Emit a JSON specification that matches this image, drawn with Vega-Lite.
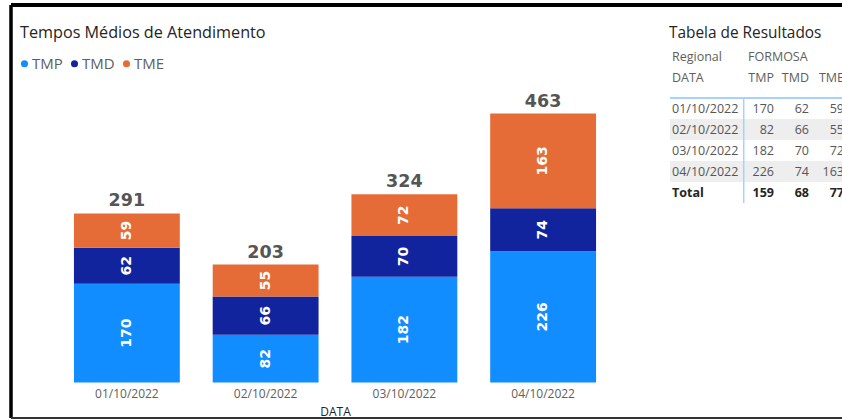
{
  "$schema": "https://vega.github.io/schema/vega-lite/v6.json",
  "width": 831,
  "height": 413,
  "autosize": {"type": "none"},
  "padding": {"left": 11, "top": 5, "right": 0, "bottom": 2},
  "background": "#ffffff",
  "config": {"view": {"stroke": null}, "font": "Open Sans"},
  "title": {"text": "Tempos Médios de Atendimento", "anchor": "start", "frame": "group", "offset": 0, "baseline": "alphabetic", "dx": 9, "dy": 51, "fontSize": 16.2, "fontWeight": "normal", "color": "#252423", "font": "Open Sans"},
  "datasets": {
    "tempos": [
      {"data": "01/10/2022", "metrica": "TMP", "ordem": 1, "valor": 170},
      {"data": "01/10/2022", "metrica": "TMD", "ordem": 2, "valor": 62},
      {"data": "01/10/2022", "metrica": "TME", "ordem": 3, "valor": 59},
      {"data": "02/10/2022", "metrica": "TMP", "ordem": 1, "valor": 82},
      {"data": "02/10/2022", "metrica": "TMD", "ordem": 2, "valor": 66},
      {"data": "02/10/2022", "metrica": "TME", "ordem": 3, "valor": 55},
      {"data": "03/10/2022", "metrica": "TMP", "ordem": 1, "valor": 182},
      {"data": "03/10/2022", "metrica": "TMD", "ordem": 2, "valor": 70},
      {"data": "03/10/2022", "metrica": "TME", "ordem": 3, "valor": 72},
      {"data": "04/10/2022", "metrica": "TMP", "ordem": 1, "valor": 226},
      {"data": "04/10/2022", "metrica": "TMD", "ordem": 2, "valor": 74},
      {"data": "04/10/2022", "metrica": "TME", "ordem": 3, "valor": 163}
    ],
    "totais": [
      {"metrica": "TMP", "valor": 159},
      {"metrica": "TMD", "valor": 68},
      {"metrica": "TME", "valor": 77}
    ],
    "linhas": [
      {"linha": "01/10/2022"},
      {"linha": "02/10/2022"},
      {"linha": "03/10/2022"},
      {"linha": "04/10/2022"},
      {"linha": "Total"}
    ],
    "cabecalho": [
      {"linha": "titulo", "coluna": "c1", "texto": "Tabela de Resultados"},
      {"linha": "Regional", "coluna": "c1", "texto": "Regional"},
      {"linha": "Regional", "coluna": "TMP", "texto": "FORMOSA"},
      {"linha": "DATA", "coluna": "c1", "texto": "DATA"},
      {"linha": "DATA", "coluna": "TMP", "texto": "TMP"},
      {"linha": "DATA", "coluna": "TMD", "texto": "TMD"},
      {"linha": "DATA", "coluna": "TME", "texto": "TME"}
    ]
  },
  "layer": [
    {
      "data": {"name": "tempos"},
      "layer": [
        {
          "mark": {"type": "bar"},
          "encoding": {
            "x": {"field": "data", "type": "ordinal",
              "scale": {"type": "band", "domain": ["01/10/2022", "02/10/2022", "03/10/2022", "04/10/2022"], "range": [46.5, 601.5], "paddingInner": 0.237, "paddingOuter": 0.1185},
              "axis": {"title": "DATA", "offset": -35.5, "domain": false, "ticks": false, "tickSize": 0, "labelPadding": 6, "labelAngle": 0, "labelColor": "#605E5C", "labelFont": "Open Sans", "labelFontSize": 12, "titleColor": "#252423", "titleFont": "Open Sans", "titleFontSize": 12, "titleFontWeight": "normal", "titlePadding": 7, "grid": false}},
            "y": {"field": "valor", "type": "quantitative", "stack": "zero",
              "scale": {"domain": [0, 463], "range": [377.5, 108.5], "nice": false, "zero": true}, "axis": null},
            "color": {"field": "metrica", "type": "nominal",
              "scale": {"domain": ["TMP", "TMD", "TME"], "range": ["#118DFF", "#12239E", "#E66C37"]},
              "legend": {"title": null, "orient": "none", "legendX": 6, "legendY": 51, "direction": "horizontal", "symbolType": "circle", "symbolSize": 50, "symbolStrokeWidth": 0, "labelFontSize": 15, "labelColor": "#605E5C", "labelFont": "Open Sans", "labelOffset": 0, "columnPadding": 4}},
            "order": {"field": "ordem", "type": "quantitative"}
          }
        },
        {
          "mark": {"type": "text", "angle": 270, "color": "#ffffff", "font": "DejaVu Sans", "fontWeight": "bold", "fontSize": 14, "baseline": "middle", "align": "center"},
          "encoding": {
            "x": {"field": "data", "type": "ordinal",
              "scale": {"type": "band", "domain": ["01/10/2022", "02/10/2022", "03/10/2022", "04/10/2022"], "range": [46.5, 601.5], "paddingInner": 0.237, "paddingOuter": 0.1185}},
            "y": {"field": "valor", "type": "quantitative", "stack": "zero", "bandPosition": 0.5,
              "scale": {"domain": [0, 463], "range": [377.5, 108.5], "nice": false, "zero": true}, "axis": null},
            "detail": {"field": "metrica", "type": "nominal"},
            "order": {"field": "ordem", "type": "quantitative"},
            "text": {"field": "valor", "type": "quantitative"}
          }
        },
        {
          "transform": [{"aggregate": [{"op": "sum", "field": "valor", "as": "total"}], "groupby": ["data"]}],
          "mark": {"type": "text", "baseline": "bottom", "dy": -3, "font": "DejaVu Sans", "fontWeight": "bold", "fontSize": 17.5, "color": "#555555", "align": "center"},
          "encoding": {
            "x": {"field": "data", "type": "ordinal",
              "scale": {"type": "band", "domain": ["01/10/2022", "02/10/2022", "03/10/2022", "04/10/2022"], "range": [46.5, 601.5], "paddingInner": 0.237, "paddingOuter": 0.1185}},
            "y": {"field": "total", "type": "quantitative",
              "scale": {"domain": [0, 463], "range": [377.5, 108.5], "nice": false, "zero": true}, "axis": null},
            "text": {"field": "total", "type": "quantitative"}
          }
        }
      ]
    },
    {
      "data": {"name": "cabecalho"},
      "layer": [
        {
          "transform": [{"filter": {"field": "linha", "equal": "titulo"}}],
          "mark": {"type": "text", "align": "left", "baseline": "middle", "dx": -1, "dy": -3.5, "fontSize": 15.4, "color": "#252423", "font": "Open Sans"},
          "encoding": {
            "x": {"field": "coluna", "type": "nominal", "bandPosition": 0, "scale": {"type": "band", "domain": ["c0", "c1", "c2", "TMP", "TMD", "TME"], "range": [624, 834], "paddingInner": 0, "paddingOuter": 0}, "axis": null},
            "y": {"field": "linha", "type": "nominal", "scale": {"type": "band", "domain": ["titulo", "Regional", "DATA"], "range": [21.25, 82.75], "paddingInner": 0, "paddingOuter": 0}, "axis": null},
            "text": {"field": "texto"}
          }
        },
        {
          "transform": [{"filter": {"field": "texto", "oneOf": ["Regional", "DATA"]}}],
          "mark": {"type": "text", "align": "left", "baseline": "middle", "dx": 2, "fontSize": 12.5, "color": "#605E5C", "font": "Open Sans"},
          "encoding": {
            "x": {"field": "coluna", "type": "nominal", "bandPosition": 0, "scale": {"type": "band", "domain": ["c0", "c1", "c2", "TMP", "TMD", "TME"], "range": [624, 834], "paddingInner": 0, "paddingOuter": 0}, "axis": null},
            "y": {"field": "linha", "type": "nominal", "scale": {"type": "band", "domain": ["titulo", "Regional", "DATA"], "range": [21.25, 82.75], "paddingInner": 0, "paddingOuter": 0}, "axis": null},
            "text": {"field": "texto"}
          }
        },
        {
          "transform": [{"filter": {"field": "texto", "equal": "FORMOSA"}}],
          "mark": {"type": "text", "align": "left", "baseline": "middle", "dx": 8, "fontSize": 12.5, "color": "#605E5C", "font": "Open Sans"},
          "encoding": {
            "x": {"field": "coluna", "type": "nominal", "bandPosition": 0, "scale": {"type": "band", "domain": ["c0", "c1", "c2", "TMP", "TMD", "TME"], "range": [624, 834], "paddingInner": 0, "paddingOuter": 0}, "axis": null},
            "y": {"field": "linha", "type": "nominal", "scale": {"type": "band", "domain": ["titulo", "Regional", "DATA"], "range": [21.25, 82.75], "paddingInner": 0, "paddingOuter": 0}, "axis": null},
            "text": {"field": "texto"}
          }
        },
        {
          "transform": [{"filter": {"field": "texto", "oneOf": ["TMP", "TMD", "TME"]}}],
          "mark": {"type": "text", "align": "right", "baseline": "middle", "dx": -1, "fontSize": 12.5, "color": "#605E5C", "font": "Open Sans"},
          "encoding": {
            "x": {"field": "coluna", "type": "nominal", "bandPosition": 1, "scale": {"type": "band", "domain": ["c0", "c1", "c2", "TMP", "TMD", "TME"], "range": [624, 834], "paddingInner": 0, "paddingOuter": 0}, "axis": null},
            "y": {"field": "linha", "type": "nominal", "scale": {"type": "band", "domain": ["titulo", "Regional", "DATA"], "range": [21.25, 82.75], "paddingInner": 0, "paddingOuter": 0}, "axis": null},
            "text": {"field": "texto"}
          }
        }
      ]
    },
    {
      "layer": [
        {
          "data": {"name": "linhas"},
          "transform": [{"filter": {"field": "linha", "oneOf": ["02/10/2022", "04/10/2022"]}}],
          "mark": {"type": "rect", "color": "#EEEEEE"},
          "encoding": {
            "x": {"datum": "c1", "type": "nominal", "bandPosition": 0, "scale": {"type": "band", "domain": ["c0", "c1", "c2", "TMP", "TMD", "TME"], "range": [624, 834], "paddingInner": 0, "paddingOuter": 0}, "axis": null},
            "x2": {"value": "width"},
            "y": {"field": "linha", "type": "nominal", "scale": {"type": "band", "domain": ["01/10/2022", "02/10/2022", "03/10/2022", "04/10/2022", "Total"], "range": [93, 198], "paddingInner": 0, "paddingOuter": 0}, "axis": null}
          }
        },
        {
          "data": {"name": "linhas"},
          "transform": [{"filter": {"field": "linha", "equal": "01/10/2022"}}],
          "mark": {"type": "rule", "color": "#A6D2FF", "strokeWidth": 2},
          "encoding": {
            "x": {"datum": "c1", "type": "nominal", "bandPosition": 0, "scale": {"type": "band", "domain": ["c0", "c1", "c2", "TMP", "TMD", "TME"], "range": [624, 834], "paddingInner": 0, "paddingOuter": 0}, "axis": null},
            "x2": {"value": "width"},
            "y": {"field": "linha", "type": "nominal", "bandPosition": 0, "scale": {"type": "band", "domain": ["01/10/2022", "02/10/2022", "03/10/2022", "04/10/2022", "Total"], "range": [93, 198], "paddingInner": 0, "paddingOuter": 0}, "axis": null}
          }
        },
        {
          "data": {"name": "linhas"},
          "mark": {"type": "tick", "orient": "vertical", "color": "#A6D2FF", "thickness": 1.5, "size": 21, "opacity": 1},
          "encoding": {
            "x": {"datum": "TMP", "type": "nominal", "bandPosition": 0.106, "scale": {"type": "band", "domain": ["c0", "c1", "c2", "TMP", "TMD", "TME"], "range": [624, 834], "paddingInner": 0, "paddingOuter": 0}, "axis": null},
            "y": {"field": "linha", "type": "nominal", "scale": {"type": "band", "domain": ["01/10/2022", "02/10/2022", "03/10/2022", "04/10/2022", "Total"], "range": [93, 198], "paddingInner": 0, "paddingOuter": 0}, "axis": null}
          }
        },
        {
          "data": {"name": "linhas"},
          "transform": [{"filter": {"not": {"field": "linha", "equal": "Total"}}}],
          "mark": {"type": "text", "align": "left", "baseline": "middle", "dx": 2, "fontSize": 12.5, "color": "#555555", "font": "Open Sans"},
          "encoding": {
            "x": {"datum": "c1", "type": "nominal", "bandPosition": 0, "scale": {"type": "band", "domain": ["c0", "c1", "c2", "TMP", "TMD", "TME"], "range": [624, 834], "paddingInner": 0, "paddingOuter": 0}, "axis": null},
            "y": {"field": "linha", "type": "nominal", "scale": {"type": "band", "domain": ["01/10/2022", "02/10/2022", "03/10/2022", "04/10/2022", "Total"], "range": [93, 198], "paddingInner": 0, "paddingOuter": 0}, "axis": null},
            "text": {"field": "linha"}
          }
        },
        {
          "data": {"name": "linhas"},
          "transform": [{"filter": {"field": "linha", "equal": "Total"}}],
          "mark": {"type": "text", "align": "left", "baseline": "middle", "dx": 2, "fontSize": 12.5, "fontWeight": "bold", "color": "#252423", "font": "Open Sans"},
          "encoding": {
            "x": {"datum": "c1", "type": "nominal", "bandPosition": 0, "scale": {"type": "band", "domain": ["c0", "c1", "c2", "TMP", "TMD", "TME"], "range": [624, 834], "paddingInner": 0, "paddingOuter": 0}, "axis": null},
            "y": {"field": "linha", "type": "nominal", "scale": {"type": "band", "domain": ["01/10/2022", "02/10/2022", "03/10/2022", "04/10/2022", "Total"], "range": [93, 198], "paddingInner": 0, "paddingOuter": 0}, "axis": null},
            "text": {"field": "linha"}
          }
        },
        {
          "data": {"name": "tempos"},
          "mark": {"type": "text", "align": "right", "baseline": "middle", "dx": -1, "fontSize": 12.5, "color": "#555555", "font": "Open Sans"},
          "encoding": {
            "x": {"field": "metrica", "type": "nominal", "bandPosition": 1, "scale": {"type": "band", "domain": ["c0", "c1", "c2", "TMP", "TMD", "TME"], "range": [624, 834], "paddingInner": 0, "paddingOuter": 0}, "axis": null},
            "y": {"field": "data", "type": "nominal", "scale": {"type": "band", "domain": ["01/10/2022", "02/10/2022", "03/10/2022", "04/10/2022", "Total"], "range": [93, 198], "paddingInner": 0, "paddingOuter": 0}, "axis": null},
            "text": {"field": "valor", "type": "quantitative"}
          }
        },
        {
          "data": {"name": "totais"},
          "mark": {"type": "text", "align": "right", "baseline": "middle", "dx": -1, "fontSize": 12.5, "fontWeight": "bold", "color": "#252423", "font": "Open Sans"},
          "encoding": {
            "x": {"field": "metrica", "type": "nominal", "bandPosition": 1, "scale": {"type": "band", "domain": ["c0", "c1", "c2", "TMP", "TMD", "TME"], "range": [624, 834], "paddingInner": 0, "paddingOuter": 0}, "axis": null},
            "y": {"datum": "Total", "type": "nominal", "scale": {"type": "band", "domain": ["01/10/2022", "02/10/2022", "03/10/2022", "04/10/2022", "Total"], "range": [93, 198], "paddingInner": 0, "paddingOuter": 0}, "axis": null},
            "text": {"field": "valor", "type": "quantitative"}
          }
        }
      ]
    },
    {
      "data": {"name": "linhas"},
      "transform": [{"filter": {"field": "linha", "equal": "Total"}}],
      "layer": [
        {"mark": {"type": "rule", "color": "#000000", "strokeWidth": 4}, "encoding": {"x": {"value": 0}, "x2": {"value": "width"}, "y": {"value": 0}}},
        {"mark": {"type": "rule", "color": "#000000", "strokeWidth": 3.5}, "encoding": {"x": {"value": 0}, "y": {"value": 0}, "y2": {"value": "height"}}},
        {"mark": {"type": "rule", "color": "#333333", "strokeWidth": 2}, "encoding": {"x": {"value": 0}, "x2": {"value": "width"}, "y": {"value": "height"}}}
      ]
    }
  ],
  "resolve": {"scale": {"x": "independent", "y": "independent"}, "axis": {"x": "independent", "y": "independent"}}
}
